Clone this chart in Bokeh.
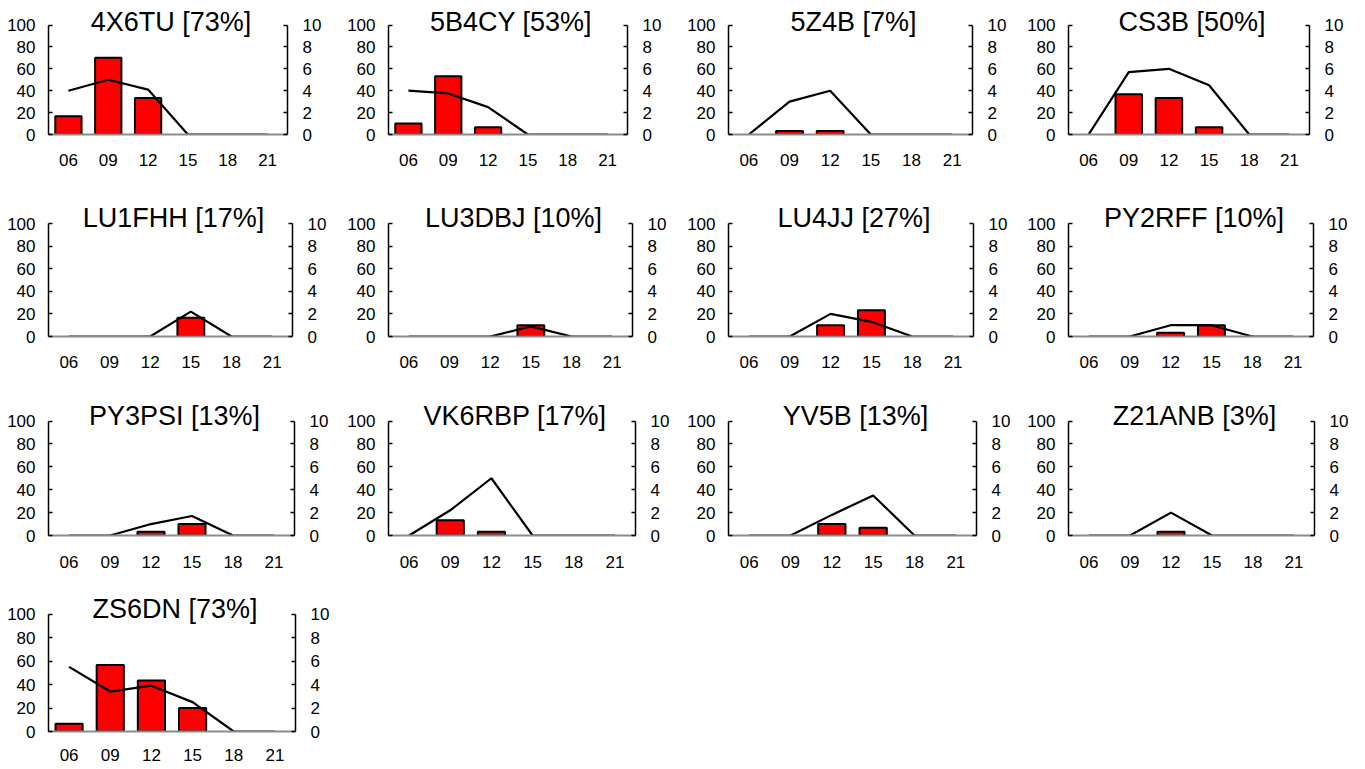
from bokeh.plotting import figure
from bokeh.models import FactorRange, Range1d, LinearAxis, FixedTicker, Label, ColumnDataSource
from bokeh.layouts import column, row
from bokeh.embed import file_html
from bokeh.resources import INLINE

# ---------------- data ----------------
hours = ["06", "09", "12", "15", "18", "21"]
stations = ["4X6TU", "5B4CY", "5Z4B", "CS3B",
            "LU1FHH", "LU3DBJ", "LU4JJ", "PY2RFF",
            "PY3PSI", "VK6RBP", "YV5B", "Z21ANB",
            "ZS6DN"]
success_pct = [73, 53, 7, 50, 17, 10, 27, 10, 13, 17, 13, 3, 73]
# bars: % of days heard per time slot (left axis 0-100)
bar_pct = [
    [16.7, 70.0, 33.3, 0, 0, 0],
    [10.0, 53.3, 6.7, 0, 0, 0],
    [0, 3.3, 3.3, 0, 0, 0],
    [0, 36.7, 33.3, 6.7, 0, 0],
    [0, 0, 0, 16.7, 0, 0],
    [0, 0, 0, 10.0, 0, 0],
    [0, 0, 10.0, 23.3, 0, 0],
    [0, 0, 3.3, 10.0, 0, 0],
    [0, 0, 3.3, 10.0, 0, 0],
    [0, 13.3, 3.3, 0, 0, 0],
    [0, 0, 10.0, 6.7, 0, 0],
    [0, 0, 3.3, 0, 0, 0],
    [6.7, 56.7, 43.3, 20.0, 0, 0],
]
# line: right axis 0-10
line_vals = [
    [4.0, 5.0, 4.1, 0, 0, 0],
    [4.0, 3.75, 2.5, 0, 0, 0],
    [0, 3.0, 4.0, 0, 0, 0],
    [0, 5.7, 6.0, 4.5, 0, 0],
    [0, 0, 0, 2.2, 0, 0],
    [0, 0, 0, 0.9, 0, 0],
    [0, 0, 2.0, 1.3, 0, 0],
    [0, 0, 1.0, 1.0, 0, 0],
    [0, 0, 1.0, 1.7, 0, 0],
    [0, 2.2, 5.0, 0, 0, 0],
    [0, 0, 1.8, 3.5, 0, 0],
    [0, 0, 2.0, 0, 0, 0],
    [5.5, 3.4, 3.9, 2.5, 0, 0],
]
left_ticks = [0, 20, 40, 60, 80, 100]
right_ticks = [0, 2, 4, 6, 8, 10]

# ---------------- layout ----------------
COL_W = 340
LEFT_B = 48
frame_widths = [239, 239, 244, 241,
                244, 244, 245, 245,
                246, 247, 248, 246,
                247]
# (frame_height, pixels for 0..100, bottom border, title centre from frame top, x-label standoff)
row_geom = [
    (134, 109.5, 69, 21, 19),
    (133, 113.0, 65, 14, 19),
    (134, 114.5, 59, 14, 20),
    (137, 117.5, 5, 14, 17),
]
FONT = "Liberation Sans"

figs = []
for i, name in enumerate(stations):
    fh, px100, bb, tt, xso = row_geom[i // 4]
    fw = frame_widths[i]
    ymax = 100.0 * fh / px100
    p = figure(x_range=FactorRange(factors=hours, range_padding=0),
               y_range=Range1d(0, ymax),
               frame_width=fw, frame_height=fh,
               min_border_left=LEFT_B, min_border_right=COL_W - LEFT_B - fw,
               min_border_top=0, min_border_bottom=bb,
               toolbar_location=None, output_backend="svg",
               background_fill_color="white", border_fill_color="white")
    p.outline_line_color = None
    p.xgrid.visible = False
    p.ygrid.visible = False

    p.extra_y_ranges = {"cnt": Range1d(0, ymax / 10.0)}
    rax = LinearAxis(y_range_name="cnt")
    p.add_layout(rax, "right")

    lax = p.left[0]
    lax.ticker = FixedTicker(ticks=left_ticks)
    lax.bounds = (0, 100)
    lax.major_label_standoff = 13
    rax.ticker = FixedTicker(ticks=right_ticks)
    rax.bounds = (0, 10)
    rax.major_label_standoff = 15
    for ax in (lax, rax):
        ax.axis_line_color = "black"
        ax.axis_line_width = 1.5
        ax.major_tick_line_color = "black"
        ax.major_tick_line_width = 1.5
        ax.major_tick_in = 4
        ax.major_tick_out = 0
        ax.minor_tick_line_color = None
        ax.major_label_text_font = FONT
        ax.major_label_text_font_size = "17px"
        ax.major_label_text_color = "black"

    xax = p.below[0]
    xax.axis_line_color = "#8c8c8c"
    xax.axis_line_width = 2
    xax.major_tick_line_color = None
    xax.major_tick_in = 0
    xax.major_tick_out = 0
    xax.major_label_standoff = xso
    xax.major_label_text_font = FONT
    xax.major_label_text_font_size = "17px"
    xax.major_label_text_color = "black"

    bx = [h for h, v in zip(hours, bar_pct[i]) if v > 0]
    bt = [v for v in bar_pct[i] if v > 0]
    p.vbar(x="x", top="top", bottom=0, width=0.66,
           source=ColumnDataSource(dict(x=bx, top=bt)),
           fill_color="#ff0000", line_color="black", line_width=2)
    p.line(x=hours, y=line_vals[i], y_range_name="cnt",
           line_color="black", line_width=2.2)

    p.add_layout(Label(x=fw / 2 + 3, y=fh - tt, x_units="screen", y_units="screen",
                       text=f"{name} [{success_pct[i]}%]",
                       text_align="center", text_baseline="middle",
                       text_font=FONT, text_font_size="27px", text_color="black"))
    figs.append(p)

rows = [row(*figs[k:k + 4]) for k in range(0, len(figs), 4)]
layout = column(*rows)

open("out.html", "w").write(file_html(layout, INLINE))
